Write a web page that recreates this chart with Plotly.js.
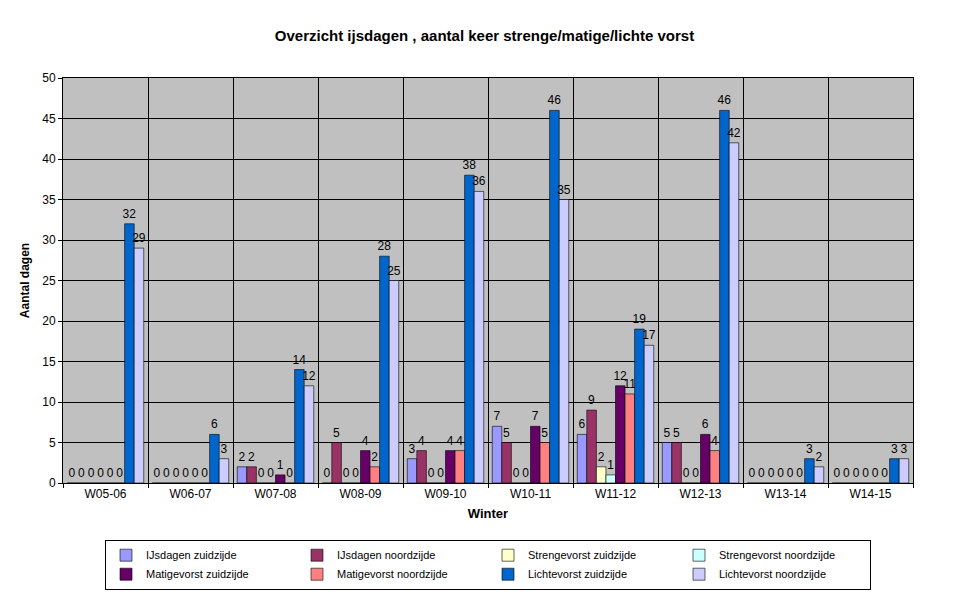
<!DOCTYPE html>
<html>
<head>
<meta charset="utf-8">
<script src="https://cdn.plot.ly/plotly-3.0.1.min.js"></script>
<style>body{margin:0}#myDiv{width:969px;height:602px}</style>
</head>
<body>
<div id="myDiv"></div>
<script>
let winters = ['W05-06','W06-07','W07-08','W08-09','W09-10','W10-11','W11-12','W12-13','W13-14','W14-15']
let ijsZuid = [0,0,2,0,3,7,6,5,0,0]
let ijsNoord = [0,0,2,5,4,5,9,5,0,0]
let strengZuid = [0,0,0,0,0,0,2,0,0,0]
let strengNoord = [0,0,0,0,0,0,1,0,0,0]
let matigZuid = [0,0,1,4,4,7,12,6,0,0]
let matigNoord = [0,0,0,2,4,5,11,4,0,0]
let lichtZuid = [32,6,14,28,38,46,19,46,3,3]
let lichtNoord = [29,3,12,25,36,35,17,42,2,3]

let names = ['IJsdagen zuidzijde','IJsdagen noordzijde','Strengevorst zuidzijde','Strengevorst noordzijde','Matigevorst zuidzijde','Matigevorst noordzijde','Lichtevorst zuidzijde','Lichtevorst noordzijde']
let series = [ijsZuid, ijsNoord, strengZuid, strengNoord, matigZuid, matigNoord, lichtZuid, lichtNoord]
let colors = ['#9999FF','#993366','#FFFFCC','#CCFFFF','#660066','#FF8080','#0066CC','#CCCCFF']

let data = []
for (let i = 0; i < series.length; i++) {
  data.push({
    x: winters, y: series[i], name: names[i], type: 'bar',
    marker: {color: colors[i], line: {color: '#000', width: 0.6}},
    text: series[i].map(String), textposition: 'outside', textangle: 0,
    constraintext: 'none',
    textfont: {size: 12, color: '#000'}, cliponaxis: false
  })
}

let layout = {
  width: 969, height: 602,
  font: {family: 'Liberation Sans, Arial', size: 12, color: '#000'},
  title: {text: '<b>Overzicht ijsdagen , aantal keer strenge/matige/lichte vorst</b>', font: {size: 15}, x: 0.5, y: 0.95},
  margin: {l: 63, r: 56, t: 78, b: 117},
  plot_bgcolor: '#C0C0C0', paper_bgcolor: '#fff',
  bargap: 0.1, bargroupgap: 0,
  xaxis: {title: {text: '<b>Winter</b>', font: {size: 13}, standoff: 8}, tickson: 'boundaries', showgrid: true, gridcolor: '#000', gridwidth: 1, showline: true, linecolor: '#000', mirror: true, ticks: 'outside', ticklen: 4, tickcolor: '#000'},
  yaxis: {title: {text: '<b>Aantal dagen</b>', font: {size: 12}}, range: [0, 50], dtick: 5, gridcolor: '#000', gridwidth: 1, showline: true, linecolor: '#000', mirror: true, ticks: 'outside', ticklen: 4, tickcolor: '#000', zeroline: false},
  showlegend: true,
  legend: {orientation: 'h', x: 0.5, xanchor: 'center', y: -0.14, yanchor: 'top', bordercolor: '#000', borderwidth: 1, entrywidth: 146, itemwidth: 20, font: {size: 11}, traceorder: 'normal'}
}

Plotly.newPlot('myDiv', data, layout, {displayModeBar: false})
</script>
</body>
</html>
